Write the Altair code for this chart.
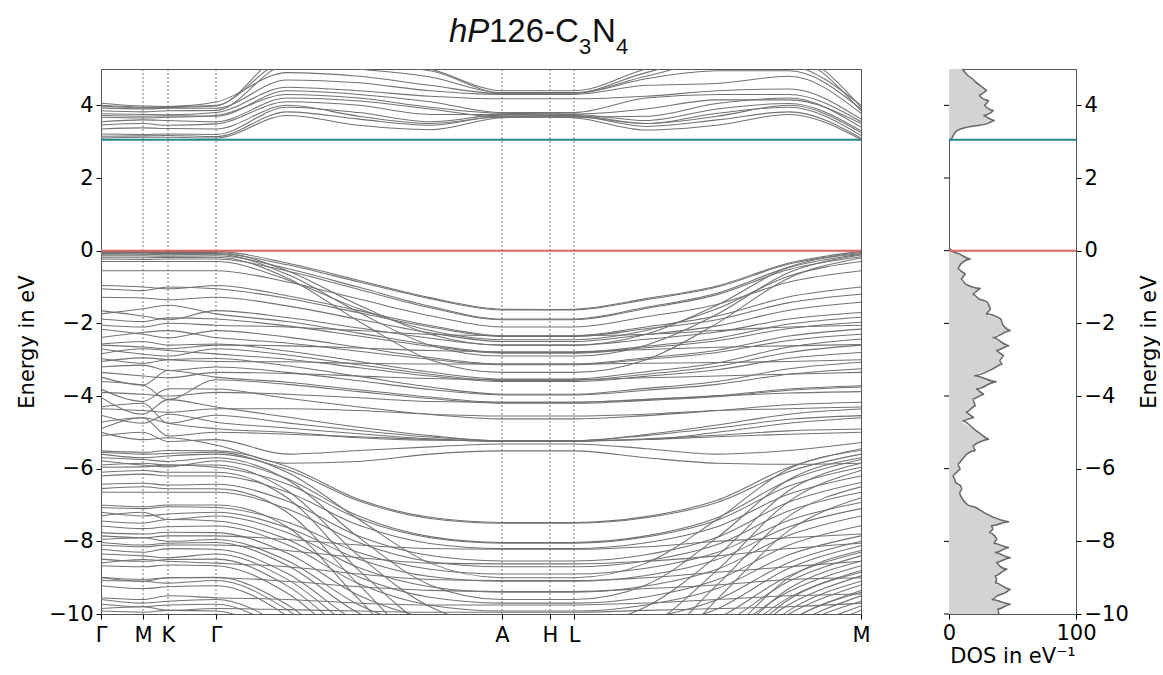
import altair as alt
import pandas as pd

# ---------------- data ----------------
# k-path coordinate of the sample columns (Γ, M, K, Γ, three points Γ→A, A, H, L, three points L→M, M)
KPOS = [0, 42, 67, 115, 186, 258, 329, 401, 449, 473, 545, 616, 688, 760]
HSYM_POS = [0, 42, 67, 115, 401, 449, 473, 760]
HSYM_LAB = ["Γ", "M", "K", "Γ", "A", "H", "L", "M"]
VLINES = [42, 67, 115, 401, 449, 473]
FERMI = [0.0]
CBM = [3.05]
Y_TICKS = [-10, -8, -6, -4, -2, 0, 2, 4]

COND = [
    [3.10, 3.12, 3.12, 3.10, 3.72, 3.45, 3.33, 3.66, 3.68, 3.66, 3.32, 3.45, 3.75, 3.06],
    [3.15, 3.16, 3.17, 3.14, 3.82, 3.62, 3.45, 3.70, 3.70, 3.70, 3.42, 3.60, 3.82, 3.10],
    [3.21, 3.20, 3.21, 3.20, 3.95, 3.80, 3.55, 3.73, 3.72, 3.72, 3.50, 3.78, 3.95, 3.17],
    [3.35, 3.38, 3.36, 3.35, 4.00, 3.70, 3.50, 3.68, 3.68, 3.68, 3.50, 3.70, 4.00, 3.25],
    [3.46, 3.50, 3.45, 3.49, 4.10, 4.00, 3.75, 3.75, 3.74, 3.75, 3.58, 3.90, 4.05, 3.30],
    [3.55, 3.60, 3.58, 3.55, 4.20, 4.12, 3.90, 3.68, 3.68, 3.68, 3.70, 4.05, 4.20, 3.40],
    [3.67, 3.65, 3.67, 3.72, 4.30, 4.20, 3.95, 3.78, 3.77, 3.76, 3.90, 4.15, 4.15, 3.50],
    [3.72, 3.70, 3.71, 3.70, 4.40, 4.30, 4.10, 3.80, 3.80, 3.80, 4.20, 4.30, 4.30, 3.55],
    [3.77, 3.75, 3.74, 3.80, 4.50, 4.40, 4.25, 4.18, 4.18, 4.18, 4.25, 4.40, 4.45, 3.62],
    [3.85, 3.82, 3.85, 3.86, 5.10, 5.10, 4.95, 4.34, 4.34, 4.34, 4.90, 5.30, 5.30, 3.85],
    [3.93, 3.90, 3.92, 3.92, 4.70, 4.62, 4.40, 4.30, 4.30, 4.30, 4.55, 4.60, 4.80, 3.78],
    [3.98, 3.93, 3.94, 3.98, 5.40, 5.30, 5.00, 4.40, 4.40, 4.40, 5.00, 5.40, 5.40, 3.95],
    [4.00, 3.95, 3.96, 4.00, 5.20, 5.00, 4.78, 4.35, 4.35, 4.35, 4.80, 5.20, 5.10, 4.00],
    [4.06, 3.98, 3.97, 4.09, 4.90, 4.80, 4.55, 4.32, 4.33, 4.33, 4.73, 4.95, 4.95, 3.90],
]

VAL_TOP = [
    [-0.02, -0.02, -0.02, -0.02, -0.34, -0.82, -1.29, -1.61, -1.62, -1.61, -1.32, -0.97, -0.34, -0.02],
    [-0.05, -0.05, -0.05, -0.05, -0.55, -1.50, -2.30, -2.60, -2.60, -2.60, -2.30, -1.50, -0.45, -0.08],
    [-0.08, -0.07, -0.08, -0.08, -0.39, -0.86, -1.32, -1.63, -1.63, -1.63, -1.35, -1.00, -0.37, -0.05],
    [-0.10, -0.10, -0.11, -0.10, -0.65, -1.70, -2.60, -2.90, -2.90, -2.90, -2.60, -1.75, -0.60, -0.12],
    [-0.14, -0.14, -0.15, -0.14, -0.49, -1.01, -1.53, -1.88, -1.88, -1.88, -1.56, -1.17, -0.46, -0.10],
    [-0.18, -0.18, -0.19, -0.18, -0.75, -1.95, -3.00, -3.35, -3.35, -3.35, -3.00, -2.00, -0.75, -0.20],
    [-0.23, -0.24, -0.23, -0.23, -0.56, -1.07, -1.57, -1.90, -1.90, -1.90, -1.59, -1.21, -0.52, -0.17],
    [-0.30, -0.30, -0.30, -0.30, -0.80, -1.60, -2.20, -2.45, -2.45, -2.45, -2.20, -1.60, -0.70, -0.30],
    [-0.55, -0.55, -0.55, -0.55, -0.86, -1.33, -1.79, -2.10, -2.10, -2.10, -1.82, -1.48, -0.86, -0.55],
    [-0.96, -1.00, -1.05, -0.96, -1.24, -1.65, -2.06, -2.34, -2.34, -2.34, -2.10, -1.80, -1.27, -1.00],
    [-1.05, -1.10, -1.00, -1.05, -1.31, -1.71, -2.10, -2.36, -2.36, -2.36, -2.15, -1.90, -1.43, -1.20],
    [-1.28, -1.30, -1.35, -1.28, -1.52, -1.89, -2.26, -2.50, -2.50, -2.50, -2.31, -2.07, -1.64, -1.42],
    [-1.65, -1.80, -1.90, -1.65, -1.84, -2.13, -2.41, -2.60, -2.60, -2.60, -2.44, -2.24, -1.88, -1.70],
    [-1.74, -1.60, -1.50, -1.74, -1.95, -2.27, -2.59, -2.80, -2.80, -2.80, -2.63, -2.41, -2.02, -1.83],
    [-1.88, -1.95, -1.85, -1.88, -2.07, -2.35, -2.63, -2.82, -2.82, -2.82, -2.67, -2.48, -2.14, -1.97],
    [-2.05, -2.10, -2.00, -2.05, -2.10, -2.20, -2.30, -2.34, -2.34, -2.34, -2.30, -2.20, -2.10, -2.05],
    [-2.16, -2.30, -2.40, -2.20, -2.38, -2.66, -2.94, -3.12, -3.12, -3.12, -2.95, -2.74, -2.35, -2.16],
    [-2.39, -2.25, -2.20, -2.39, -2.54, -2.77, -2.99, -3.14, -3.14, -3.14, -2.99, -2.80, -2.47, -2.30],
    [-2.57, -2.50, -2.60, -2.57, -2.76, -3.05, -3.34, -3.53, -3.53, -3.53, -3.33, -3.09, -2.65, -2.43],
    [-2.60, -2.65, -2.70, -2.60, -2.62, -2.68, -2.75, -2.78, -2.78, -2.78, -2.72, -2.66, -2.62, -2.58],
    [-2.70, -2.85, -2.90, -2.70, -2.87, -3.14, -3.40, -3.57, -3.57, -3.57, -3.40, -3.18, -2.80, -2.60],
    [-2.84, -2.70, -2.75, -2.84, -2.99, -3.22, -3.45, -3.60, -3.60, -3.60, -3.46, -3.28, -2.96, -2.80],
    [-2.97, -3.10, -3.00, -2.97, -3.17, -3.46, -3.75, -3.95, -3.95, -3.95, -3.79, -3.60, -3.25, -3.07],
    [-3.05, -2.95, -3.00, -3.05, -3.06, -3.10, -3.12, -3.12, -3.12, -3.12, -3.10, -3.08, -3.05, -3.00],
    [-3.20, -3.15, -3.30, -3.20, -3.35, -3.58, -3.82, -3.97, -3.97, -3.97, -3.84, -3.68, -3.40, -3.25],
    [-3.35, -3.45, -3.50, -3.35, -3.38, -3.45, -3.52, -3.55, -3.55, -3.55, -3.50, -3.45, -3.40, -3.35],
    [-3.48, -3.70, -3.30, -3.48, -3.62, -3.83, -4.03, -4.17, -4.17, -4.17, -4.09, -3.99, -3.81, -3.72],
    [-3.60, -3.70, -4.10, -3.55, -3.68, -3.88, -4.07, -4.20, -4.20, -4.20, -4.12, -4.02, -3.84, -3.75],
    [-3.90, -3.95, -4.00, -3.90, -3.95, -4.05, -4.15, -4.17, -4.17, -4.17, -4.10, -4.00, -3.92, -3.88],
]

VAL_MID = [
    [-3.81, -4.15, -3.80, -3.81, -4.06, -4.30, -4.51, -4.63, -4.63, -4.63, -4.54, -4.40, -4.24, -4.17],
    [-4.04, -4.50, -4.10, -4.30, -4.58, -4.86, -5.09, -5.23, -5.23, -5.23, -5.06, -4.80, -4.50, -4.36],
    [-4.30, -4.20, -4.75, -4.53, -4.74, -4.95, -5.13, -5.23, -5.23, -5.23, -5.09, -4.88, -4.64, -4.54],
    [-4.35, -4.40, -4.45, -4.35, -4.35, -4.40, -4.50, -4.55, -4.55, -4.55, -4.50, -4.40, -4.35, -4.30],
    [-4.53, -4.75, -4.50, -4.72, -4.88, -5.04, -5.18, -5.25, -5.25, -5.25, -5.18, -5.08, -4.96, -4.91],
    [-4.72, -4.60, -5.10, -5.00, -5.05, -5.12, -5.20, -5.23, -5.23, -5.23, -5.20, -5.12, -5.05, -5.00],
    [-4.90, -4.60, -4.75, -4.90, -5.00, -5.15, -5.22, -5.23, -5.23, -5.23, -5.20, -5.00, -4.75, -4.60],
    [-5.00, -5.20, -5.15, -5.35, -5.85, -5.80, -5.60, -5.51, -5.51, -5.51, -5.70, -5.85, -5.88, -5.85],
    [-5.10, -5.00, -5.25, -5.20, -5.60, -5.50, -5.40, -5.32, -5.32, -5.32, -5.45, -5.60, -5.50, -5.28],
]

VAL_DEEP = [
    [-5.51, -5.55, -5.50, -5.51, -5.94, -6.85, -7.34, -7.48, -7.48, -7.48, -7.32, -6.87, -5.96, -5.45],
    [-5.55, -5.60, -5.58, -5.55, -6.10, -7.40, -8.60, -9.00, -9.00, -9.00, -8.60, -7.40, -6.00, -5.50],
    [-5.60, -5.70, -5.65, -5.60, -6.02, -6.89, -7.37, -7.50, -7.50, -7.50, -7.35, -6.93, -6.08, -5.60],
    [-5.70, -5.75, -5.80, -5.70, -6.30, -7.90, -9.20, -9.60, -9.60, -9.60, -9.20, -7.90, -6.30, -5.70],
    [-5.78, -5.90, -5.95, -5.78, -6.28, -7.31, -7.87, -8.03, -8.03, -8.03, -7.85, -7.35, -6.32, -5.75],
    [-5.90, -5.85, -5.90, -5.90, -6.60, -8.40, -9.80, -10.30, -10.30, -10.30, -9.80, -8.40, -6.60, -5.85],
    [-5.96, -5.95, -5.90, -5.96, -6.42, -7.38, -7.90, -8.05, -8.05, -8.05, -7.88, -7.42, -6.48, -5.96],
    [-6.10, -6.05, -6.10, -6.10, -6.80, -8.80, -10.40, -11.00, -11.00, -11.00, -10.40, -8.80, -6.90, -6.05],
    [-6.20, -6.15, -6.20, -6.20, -6.64, -7.56, -8.06, -8.20, -8.20, -8.20, -8.04, -7.60, -6.70, -6.20],
    [-6.43, -6.40, -6.45, -6.43, -6.89, -7.86, -8.39, -8.54, -8.54, -8.54, -8.37, -7.89, -6.92, -6.38],
    [-6.55, -6.50, -6.55, -6.55, -7.20, -9.20, -11.00, -11.50, -11.50, -11.50, -11.00, -9.20, -7.30, -6.50],
    [-6.65, -6.65, -6.65, -6.65, -7.10, -8.04, -8.56, -8.70, -8.70, -8.70, -8.54, -8.09, -7.16, -6.65],
    [-7.00, -7.05, -7.00, -7.00, -7.60, -9.60, -11.50, -12.00, -12.00, -12.00, -11.50, -9.60, -7.70, -6.80],
    [-7.07, -7.10, -7.05, -7.07, -7.47, -8.31, -8.77, -8.90, -8.90, -8.90, -8.74, -8.31, -7.42, -6.93],
    [-7.20, -7.30, -7.25, -7.20, -7.62, -8.49, -8.97, -9.10, -9.10, -9.10, -8.94, -8.50, -7.60, -7.10],
    [-7.30, -7.20, -7.40, -7.30, -7.76, -8.73, -9.25, -9.40, -9.40, -9.40, -9.23, -8.77, -7.83, -7.30],
    [-7.44, -7.50, -7.40, -7.44, -7.94, -8.98, -9.54, -9.70, -9.70, -9.70, -9.53, -9.06, -8.10, -7.57],
    [-7.58, -7.65, -7.60, -7.58, -8.09, -9.17, -9.76, -9.92, -9.92, -9.92, -9.75, -9.30, -8.37, -7.85],
    [-7.76, -7.80, -7.75, -7.76, -8.32, -9.49, -10.12, -10.30, -10.30, -10.30, -10.12, -9.61, -8.58, -8.00],
    [-7.85, -7.90, -7.85, -7.85, -7.95, -8.10, -8.20, -8.22, -8.22, -8.22, -8.15, -8.00, -7.90, -7.80],
    [-7.95, -7.90, -8.00, -7.95, -8.53, -9.75, -10.41, -10.60, -10.60, -10.60, -10.40, -9.86, -8.74, -8.12],
    [-8.03, -8.10, -8.05, -8.03, -8.66, -9.98, -10.70, -10.90, -10.90, -10.90, -10.69, -10.12, -8.95, -8.30],
    [-8.10, -8.15, -8.10, -8.10, -8.25, -8.45, -8.60, -8.62, -8.62, -8.62, -8.55, -8.40, -8.20, -8.05],
    [-8.22, -8.30, -8.20, -8.22, -8.88, -10.25, -10.99, -11.20, -11.20, -11.20, -10.98, -10.36, -9.10, -8.40],
    [-8.35, -8.40, -8.45, -8.35, -9.04, -10.49, -11.28, -11.50, -11.50, -11.50, -11.27, -10.65, -9.38, -8.67],
    [-8.49, -8.55, -8.50, -8.49, -9.22, -10.74, -11.57, -11.80, -11.80, -11.80, -11.56, -10.90, -9.55, -8.80],
    [-8.60, -8.50, -8.55, -8.60, -8.70, -8.90, -9.05, -9.08, -9.08, -9.08, -9.00, -8.85, -8.70, -8.55],
    [-8.67, -8.70, -8.65, -8.67, -9.42, -11.00, -11.86, -12.10, -12.10, -12.10, -11.85, -11.16, -9.74, -8.95],
    [-8.99, -9.05, -9.00, -8.99, -9.74, -11.31, -12.16, -12.40, -12.40, -12.40, -12.14, -11.44, -10.00, -9.20],
    [-9.00, -9.10, -9.00, -9.00, -9.10, -9.25, -9.35, -9.38, -9.38, -9.38, -9.30, -9.20, -9.05, -9.00],
    [-9.08, -9.10, -9.15, -9.08, -9.88, -11.54, -12.45, -12.70, -12.70, -12.70, -12.43, -11.70, -10.19, -9.35],
    [-9.22, -9.30, -9.25, -9.22, -10.05, -11.79, -12.74, -13.00, -13.00, -13.00, -12.72, -11.95, -10.37, -9.50],
    [-9.55, -9.60, -9.50, -9.55, -9.60, -9.70, -9.75, -9.75, -9.75, -9.75, -9.70, -9.60, -9.50, -9.45],
    [-9.60, -9.70, -9.65, -9.60, -10.41, -12.12, -13.04, -13.30, -13.30, -13.30, -13.02, -12.24, -10.66, -9.78],
    [-9.73, -9.80, -9.75, -9.73, -10.58, -12.36, -13.33, -13.60, -13.60, -13.60, -13.30, -12.49, -10.83, -9.90],
    [-9.85, -9.80, -9.90, -9.85, -9.88, -9.92, -9.95, -9.95, -9.95, -9.95, -9.90, -9.85, -9.80, -9.70],
    [-9.92, -9.95, -9.90, -9.92, -10.82, -12.70, -13.70, -14.00, -14.00, -14.00, -13.70, -12.86, -11.10, -10.20],
    [-10.5, -10.5, -10.5, -10.5, -11.0, -12.0, -12.5, -12.5, -12.5, -12.5, -12.0, -10.8, -9.00, -8.25],
    [-10.8, -10.8, -10.8, -10.8, -11.3, -12.3, -12.8, -12.8, -12.8, -12.8, -12.3, -11.0, -9.30, -8.55],
    [-11.2, -11.2, -11.2, -11.2, -11.6, -12.6, -13.0, -13.0, -13.0, -13.0, -12.6, -11.3, -9.60, -8.85],
    [-11.6, -11.6, -11.6, -11.6, -12.0, -13.0, -13.4, -13.4, -13.4, -13.4, -13.0, -11.6, -9.90, -9.10],
    [-12.0, -12.0, -12.0, -12.0, -12.4, -13.3, -13.8, -13.8, -13.8, -13.8, -13.3, -11.9, -10.2, -9.40],
    [-12.4, -12.4, -12.4, -12.4, -12.8, -13.6, -14.0, -14.0, -14.0, -14.0, -13.6, -12.3, -10.5, -9.65],
]

# density of states: energy (eV) and DOS (1/eV)
DOS_E = [-10.0, -9.87, -9.73, -9.6, -9.5, -9.41, -9.32, -9.14, -9.05, -8.95, -8.77, -8.68, -8.58, -8.45,
         -8.31, -8.17, -8.05, -7.94, -7.85, -7.76, -7.66, -7.57, -7.46, -7.34, -7.21, -7.07, -7.0, -6.89,
         -6.75, -6.66, -6.56, -6.47, -6.38, -6.3, -6.2, -6.1, -6.01, -5.88, -5.74, -5.6, -5.5, -5.37,
         -5.3, -5.19, -5.05, -4.91, -4.68, -4.59, -4.45, -4.27, -4.09, -3.95, -3.81, -3.61, -3.44, -3.26,
         -3.12, -3.03, -2.89, -2.75, -2.62, -2.39, -2.2, -2.02, -1.88, -1.74, -1.61, -1.42, -1.33, -1.19,
         -1.04, -0.92, -0.78, -0.64, -0.5, -0.37, -0.23, -0.09, 0.0, 0.08, 3.0, 3.05, 3.12, 3.21,
         3.31, 3.4, 3.49, 3.58, 3.65, 3.72, 3.8, 3.86, 3.93, 4.0, 4.07, 4.13, 4.2, 4.27, 4.34, 4.41,
         4.48, 4.55, 4.64, 4.73, 4.85, 5.0]
DOS_V = [39.4, 38.0, 48.6, 33.5, 38.0, 44.6, 48.6, 36.0, 38.0, 36.0, 46.0, 40.0, 37.0, 48.6,
         36.0, 47.3, 35.0, 38.0, 36.0, 31.5, 35.0, 33.0, 47.3, 35.3, 27.6, 21.0, 15.0, 11.8,
         9.2, 8.0, 10.5, 9.0, 5.3, 4.5, 2.6, 6.0, 9.2, 6.6, 10.5, 14.0, 21.0, 18.4,
         22.0, 31.6, 25.0, 19.8, 10.5, 19.8, 13.2, 21.1, 18.4, 27.7, 21.1, 37.5, 19.8, 34.2,
         42.1, 39.5, 43.4, 36.9, 47.4, 34.2, 48.7, 42.1, 40.8, 29.0, 33.0, 30.3, 23.7, 18.4,
         25.0, 13.2, 9.2, 13.2, 6.6, 9.2, 17.1, 7.9, 2.0, 0.0, 0.0, 1.3, 2.6, 3.9,
         6.6, 14.5, 29.7, 36.0, 31.0, 27.0, 33.0, 35.3, 30.0, 27.5, 30.0, 31.5, 26.0, 23.5, 27.0, 30.0,
         27.0, 24.5, 21.0, 18.3, 14.0, 10.5]

# title pieces: text, k-position, energy position, size, style
TITLE_PARTS = [
    ("hP", 348, 5.74, 33, "italic"),
    ("126-C", 388, 5.74, 33, "normal"),
    ("3", 478, 5.41, 22, "normal"),
    ("N", 491, 5.74, 33, "normal"),
    ("4", 515, 5.41, 22, "normal"),
]

# ---------------- frames ----------------
ALL_BANDS = COND + VAL_TOP + VAL_MID + VAL_DEEP
rows = []
for i, b in enumerate(ALL_BANDS):
    assert len(b) == len(KPOS)
    for k, e in zip(KPOS, b):
        rows.append({"band": i, "k": k, "E": e})
df_bands = pd.DataFrame(rows)
df_vl = pd.DataFrame({"k": VLINES})
df_fermi = pd.DataFrame({"E": FERMI})
df_cbm = pd.DataFrame({"E": CBM})
df_dos = pd.DataFrame({"E": DOS_E, "D": DOS_V})
df_dos["part"] = ["v" if e <= 0.5 else "c" for e in DOS_E]
df_ticks = pd.DataFrame({"E": Y_TICKS, "x0": [-3.95] * len(Y_TICKS), "x1": [0.0] * len(Y_TICKS)})

label_expr = ""
for p, l in zip(HSYM_POS, HSYM_LAB):
    label_expr += f"datum.value == {p} ? '{l}' : "
label_expr += "''"

FONT = "DejaVu Sans"
GRAY = "#727272"
RED = "#e06262"
TEAL = "#238b8b"

y_scale = alt.Scale(domain=[-10, 5], nice=False, zero=False)
x_scale = alt.Scale(domain=[0, 760], nice=False, zero=False)

x_axis = alt.Axis(values=HSYM_POS, labelExpr=label_expr, title=None, labelOverlap=False,
                  labelFlush=False, tickSize=5, labelPadding=5)
y_axis = alt.Axis(values=Y_TICKS, title="Energy in eV", titlePadding=11, labelPadding=3, tickSize=5)

bands = alt.Chart(df_bands).mark_line(
    interpolate="monotone", clip=True, color=GRAY, strokeWidth=1.05
).encode(
    x=alt.X("k:Q", scale=x_scale, axis=x_axis),
    y=alt.Y("E:Q", scale=y_scale, axis=y_axis),
    detail="band:N",
)
vlines = alt.Chart(df_vl).mark_rule(color="#555", strokeWidth=0.8, strokeDash=[2, 2]).encode(
    x=alt.X("k:Q", scale=x_scale))
fermi = alt.Chart(df_fermi).mark_rule(color=RED, strokeWidth=2).encode(y=alt.Y("E:Q", scale=y_scale))
cbm = alt.Chart(df_cbm).mark_rule(color=TEAL, strokeWidth=2).encode(y=alt.Y("E:Q", scale=y_scale))

title_layers = []
for txt, kx, ey, size, style in TITLE_PARTS:
    title_layers.append(
        alt.Chart(df_fermi).mark_text(
            text=txt, font="Liberation Sans", fontSize=size, fontStyle=style,
            align="left", baseline="alphabetic", color="#111"
        ).encode(x=alt.datum(kx, scale=x_scale), y=alt.datum(ey, scale=y_scale))
    )

left = alt.layer(vlines, bands, fermi, cbm, *title_layers).properties(width=760, height=545)

dos_x = alt.Scale(domain=[0, 100], nice=False)
area = alt.Chart(df_dos).mark_area(
    orient="horizontal", color="#d3d3d3", interpolate="monotone"
).encode(
    x=alt.X("D:Q", scale=dos_x,
            axis=alt.Axis(values=[0, 100], title="DOS in eV⁻¹", tickSize=5, labelFlush=False,
                          labelPadding=3, titlePadding=2)),
    y=alt.Y("E:Q", scale=y_scale,
            axis=alt.Axis(orient="right", values=Y_TICKS, title="Energy in eV", titleAngle=270,
                          titlePadding=31, labelPadding=3, tickSize=5)),
)
dline = alt.Chart(df_dos).mark_line(
    orient="horizontal", color="#666", strokeWidth=1.5, interpolate="monotone"
).encode(
    x=alt.X("D:Q", scale=dos_x),
    y=alt.Y("E:Q", scale=y_scale),
    detail="part:N",
    order=alt.Order("E:Q"),
)
lticks = alt.Chart(df_ticks).mark_rule(color="#000", strokeWidth=1).encode(
    x=alt.X("x0:Q", scale=dos_x), x2="x1:Q", y=alt.Y("E:Q", scale=y_scale))
fermi2 = alt.Chart(df_fermi).mark_rule(color=RED, strokeWidth=2).encode(y=alt.Y("E:Q", scale=y_scale))
cbm2 = alt.Chart(df_cbm).mark_rule(color=TEAL, strokeWidth=2).encode(y=alt.Y("E:Q", scale=y_scale))

right = alt.layer(area, dline, lticks, fermi2, cbm2).properties(width=127, height=545)

chart = alt.hconcat(left, right, spacing=88, bounds="flush").properties(
    padding={"left": 16, "top": 15, "right": 0, "bottom": 5},
    background="white",
).configure_axis(
    labelFont=FONT, labelFontSize=21, titleFont=FONT, titleFontSize=21, titleFontWeight="normal",
    labelColor="#000", titleColor="#000", tickColor="#000", domainColor="#555", grid=False,
).configure_view(stroke="#555", strokeWidth=1)

chart.save("out.html", embed_options={"renderer": "svg", "actions": False})
